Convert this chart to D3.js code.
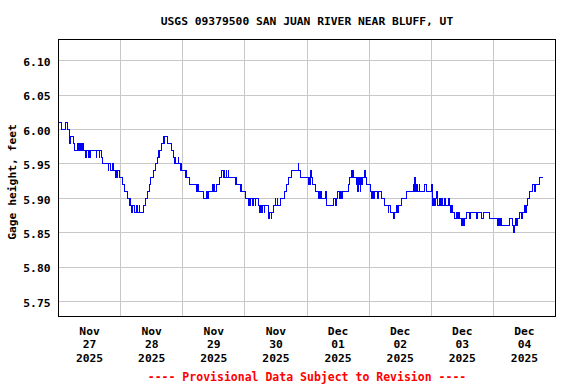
<!DOCTYPE html>
<html>
<head>
<meta charset="utf-8">
<script src="https://cdn.jsdelivr.net/npm/d3@7"></script>
<style>
  html, body { margin: 0; padding: 0; background: #fff; }
  svg { display: block; }
  text { font-family: "DejaVu Sans Mono", monospace; font-weight: bold; }
</style>
</head>
<body>
<svg id="chart" width="576" height="384"></svg>
<script>
// ---- data ----
const title = "USGS 09379500 SAN JUAN RIVER NEAR BLUFF, UT";
const yLabel = "Gage height, feet";
const footer = "---- Provisional Data Subject to Revision ----";
const startDay = "2025-11-27";   // x axis starts at midnight of this day
const dayCount = 8;
const yTicks = [5.75, 5.80, 5.85, 5.90, 5.95, 6.00, 6.05, 6.10];

// hours since Nov 27 00:00 at which the gage value changes
const hours = [
  0.0, 1.0, 2.8, 3.4, 4.1, 4.4, 4.7, 5.9, 6.3, 7.4, 7.6, 8.2, 8.5, 8.7, 8.9, 9.3, 9.8,
  10.5, 10.7, 11.4, 11.6, 12.1, 12.3, 14.7, 14.8, 15.7, 15.9, 16.6, 17.0, 19.2, 19.5,
  20.0, 20.9, 21.1, 22.2, 22.4, 22.7, 22.9, 23.6, 24.9, 25.6, 26.5, 27.3, 27.8, 28.0,
  28.3, 28.7, 29.3, 30.3, 30.5, 31.2, 31.4, 32.7, 33.7, 34.2, 35.0, 35.7, 36.7, 37.5,
  38.1, 38.6, 38.9, 39.1, 39.7, 40.5, 40.7, 41.1, 42.3, 43.6, 44.5, 44.7, 44.9, 45.2,
  46.3, 46.5, 47.0, 47.2, 47.7, 49.0, 49.2, 49.6, 50.6, 53.5, 53.7, 54.1, 56.0, 57.3,
  57.5, 57.9, 59.3, 59.5, 60.0, 60.1, 61.2, 62.2, 63.1, 63.7, 64.0, 64.2, 64.8, 65.0,
  65.7, 65.8, 68.2, 68.4, 68.9, 70.2, 70.4, 70.8, 72.1, 73.4, 73.6, 74.0, 74.2, 75.1,
  75.3, 76.0, 76.1, 77.1, 77.7, 77.9, 78.6, 78.8, 79.4, 79.6, 81.1, 81.3, 81.5, 82.1,
  82.3, 83.0, 83.7, 83.9, 84.5, 84.7, 85.6, 87.5, 88.2, 88.8, 90.1, 92.6, 92.8, 93.3,
  96.5, 96.8, 97.2, 97.4, 97.7, 98.2, 99.1, 100.6, 100.8, 101.2, 101.4, 101.7, 103.3,
  103.5, 106.1, 107.2, 107.4, 107.6, 108.7, 108.9, 109.5, 109.7, 111.9, 112.6, 113.2,
  113.5, 113.7, 113.9, 115.2, 115.5, 115.7, 115.9, 116.2, 116.6, 116.8, 117.2, 117.6,
  118.2, 118.5, 119.0, 120.6, 121.1, 121.3, 121.8, 122.0, 123.4, 123.6, 124.8, 126.1,
  127.3, 127.6, 128.2, 129.3, 129.9, 130.6, 131.1, 131.5, 132.5, 134.4, 137.0, 137.2,
  137.6, 137.8, 138.3, 138.5, 139.3, 139.5,
  141.5, 142.1, 144.1, 144.5, 145.0, 145.2, 145.5, 146.0, 146.6, 147.3, 147.5, 148.0,
  148.2, 149.2, 149.4, 150.5, 151.1, 151.5, 151.7, 152.4, 153.1, 153.7, 154.0, 154.6,
  154.8, 155.6, 156.0, 156.3, 156.9, 157.6, 158.8, 159.0, 161.4, 162.0, 163.3, 164.0,
  166.6, 169.6, 169.8, 170.4, 170.6, 171.1, 174.3, 175.5, 175.9, 176.1, 176.6, 177.0,
  177.3, 178.1, 178.9, 179.4, 180.0, 180.4, 180.7, 181.3, 182.0, 183.2, 183.9, 184.3,
  185.8, 187.0
];
// gage height (feet) from each change time onward
const gage = [
  6.01, 6.00, 6.01, 6.00, 5.99, 5.98, 5.99, 5.98, 5.97, 5.98, 5.97, 5.98, 5.97, 5.98, 5.97, 5.98, 5.97,
  5.96, 5.97, 5.96, 5.97, 5.96, 5.97, 5.96, 5.97, 5.96, 5.97, 5.96, 5.95, 5.94, 5.95,
  5.94, 5.95, 5.94, 5.93, 5.94, 5.93, 5.94, 5.93, 5.92, 5.91, 5.90, 5.89, 5.90, 5.89,
  5.88, 5.89, 5.88, 5.89, 5.88, 5.89, 5.88, 5.89, 5.90, 5.91, 5.92, 5.93, 5.94, 5.95,
  5.96, 5.97, 5.96, 5.97, 5.98, 5.99, 5.98, 5.99, 5.98, 5.97, 5.96, 5.95, 5.96, 5.95,
  5.96, 5.95, 5.94, 5.95, 5.94, 5.93, 5.94, 5.93, 5.92, 5.91, 5.92, 5.91, 5.90, 5.91,
  5.90, 5.91, 5.92, 5.91, 5.92, 5.91, 5.92, 5.93, 5.94, 5.93, 5.94, 5.93, 5.94, 5.93,
  5.94, 5.93, 5.92, 5.93, 5.92, 5.91, 5.92, 5.91, 5.90, 5.89, 5.90, 5.89, 5.90, 5.89,
  5.90, 5.89, 5.90, 5.89, 5.88, 5.89, 5.88, 5.89, 5.88, 5.89, 5.88, 5.87, 5.88, 5.87,
  5.88, 5.89, 5.90, 5.89, 5.90, 5.89, 5.90, 5.91, 5.92, 5.93, 5.94, 5.95, 5.94, 5.93,
  5.92, 5.93, 5.92, 5.94, 5.93, 5.92, 5.91, 5.90, 5.91, 5.90, 5.91, 5.90, 5.91,
  5.89, 5.90, 5.89, 5.90, 5.91, 5.90, 5.91, 5.90, 5.91, 5.92, 5.93, 5.94,
  5.93, 5.94, 5.93, 5.92, 5.93, 5.91, 5.93, 5.92, 5.91, 5.93, 5.92, 5.93,
  5.94, 5.93, 5.92, 5.91, 5.90, 5.91, 5.90, 5.91, 5.90, 5.91, 5.90, 5.89,
  5.88, 5.89, 5.88, 5.87, 5.88, 5.89, 5.88, 5.89, 5.90, 5.91, 5.92, 5.91,
  5.93, 5.91, 5.92, 5.91, 5.92, 5.91,
  5.92, 5.91, 5.92, 5.89, 5.90, 5.89, 5.90, 5.91, 5.89, 5.90, 5.89, 5.90,
  5.89, 5.90, 5.89, 5.90, 5.89, 5.88, 5.89, 5.88, 5.87, 5.88, 5.87, 5.88,
  5.87, 5.86, 5.87, 5.86, 5.87, 5.88, 5.87, 5.88, 5.87, 5.88, 5.87, 5.88,
  5.87, 5.86, 5.87, 5.86, 5.87, 5.86, 5.87, 5.86, 5.85, 5.86, 5.87, 5.86,
  5.87, 5.88, 5.87, 5.88, 5.89, 5.88, 5.89, 5.90, 5.91, 5.92, 5.91, 5.92,
  5.93, 5.93
];

// ---- layout ----
const W = 576, H = 384;
const plot = { left: 58.5, right: 555.5, top: 39.5, bottom: 316.5 };
const FS = 11.3;

const t0 = new Date(startDay + "T00:00:00Z");
const t1 = d3.utcDay.offset(t0, dayCount);
const x = d3.scaleUtc().domain([t0, t1]).range([plot.left, plot.right]);
const y = d3.scaleLinear().domain([5.728, 6.131]).range([plot.bottom, plot.top]);

const svg = d3.select("#chart");
svg.append("rect").attr("width", W).attr("height", H).attr("fill", "#fff");

// gridlines
const grid = svg.append("g").attr("stroke", "#c8c8c8").attr("stroke-width", 1)
  .attr("shape-rendering", "crispEdges");
grid.selectAll("line.h").data(yTicks).join("line")
  .attr("class", "h")
  .attr("x1", plot.left).attr("x2", plot.right)
  .attr("y1", d => y(d)).attr("y2", d => y(d));
const dayBounds = d3.utcDay.range(d3.utcDay.offset(t0, 1), t1);
grid.selectAll("line.v").data(dayBounds).join("line")
  .attr("class", "v")
  .attr("y1", plot.top).attr("y2", plot.bottom)
  .attr("x1", d => x(d)).attr("x2", d => x(d));

// data line
const pts = hours.map((h, i) => ({ t: new Date(t0.getTime() + h * 3600e3), v: gage[i] }));
const line = d3.line().x(d => x(d.t)).y(d => y(d.v)).curve(d3.curveStepAfter);
svg.append("path").datum(pts)
  .attr("d", line)
  .attr("fill", "none")
  .attr("stroke", "#0000ff")
  .attr("stroke-width", 1)
  .attr("shape-rendering", "crispEdges");

// frame
svg.append("rect")
  .attr("x", plot.left).attr("y", plot.top)
  .attr("width", plot.right - plot.left).attr("height", plot.bottom - plot.top)
  .attr("fill", "none").attr("stroke", "#000").attr("stroke-width", 1);

// y axis labels
const yAxis = d3.axisLeft(y).tickValues(yTicks).tickSize(0).tickPadding(8).tickFormat(d3.format(".2f"));
const gy = svg.append("g").attr("transform", `translate(${plot.left},0)`).call(yAxis);
gy.select(".domain").remove();
gy.selectAll("text").attr("font-size", FS).attr("fill", "#000")
  .attr("font-family", '"DejaVu Sans Mono", monospace').attr("font-weight", "bold")
  .attr("dy", "0.42em");

// x axis labels (at noon of each day)
const noons = d3.utcDay.range(t0, t1).map(d => d3.utcHour.offset(d, 12));
const fmtMon = d3.utcFormat("%b"), fmtDay = d3.utcFormat("%d"), fmtYear = d3.utcFormat("%Y");
const gx = svg.append("g").attr("font-size", FS).attr("text-anchor", "middle").attr("fill", "#000");
const lab = gx.selectAll("text").data(noons).join("text").attr("x", d => x(d));
lab.append("tspan").attr("x", d => x(d)).attr("y", 334.5).text(d => fmtMon(d));
lab.append("tspan").attr("x", d => x(d)).attr("y", 348).text(d => fmtDay(d));
lab.append("tspan").attr("x", d => x(d)).attr("y", 361.5).text(d => fmtYear(d));

// title
svg.append("text").attr("x", (plot.left + plot.right) / 2).attr("y", 25)
  .attr("text-anchor", "middle").attr("font-size", FS).attr("fill", "#000").text(title);

// y label
svg.append("text")
  .attr("transform", `translate(15.5,${(plot.top + plot.bottom) / 2 + 4}) rotate(-90)`)
  .attr("text-anchor", "middle").attr("font-size", FS).attr("fill", "#000").text(yLabel);

// footer
svg.append("text").attr("x", (plot.left + plot.right) / 2).attr("y", 380.5)
  .attr("text-anchor", "middle").attr("font-size", 11.5).attr("fill", "#ff0000").text(footer);
</script>
</body>
</html>
